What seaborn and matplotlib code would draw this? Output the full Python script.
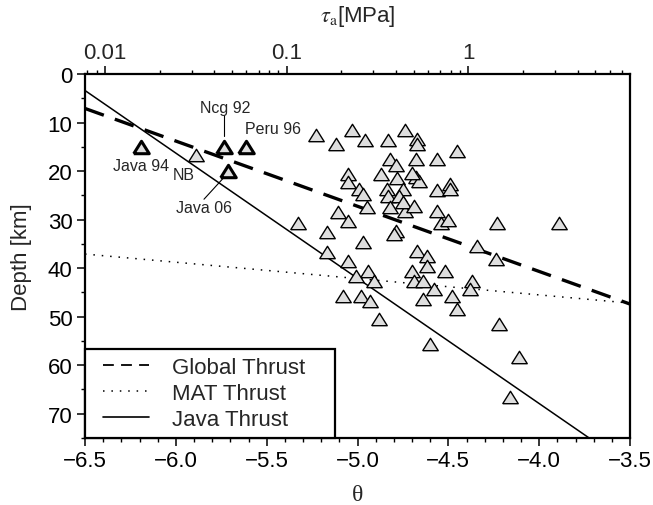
import numpy as np
import pandas as pd
import matplotlib
matplotlib.use("Agg")
import matplotlib.pyplot as plt
import seaborn as sns
from matplotlib.lines import Line2D
from matplotlib.legend_handler import HandlerLine2D
from matplotlib.ticker import FixedLocator, MultipleLocator, FuncFormatter, NullFormatter

# ---------------- data ----------------
theta_gray = [-5.23, -5.12, -5.03, -4.96, -4.83, -4.74, -4.67, -4.67, -4.56, -4.45,
              -4.82, -4.79, -4.68, -4.87, -5.05, -5.05, -4.99, -4.97,
              -4.78, -4.75, -4.84, -4.83, -4.77, -4.68, -4.66, -4.70, -4.56, -4.49, -4.49,
              -4.95, -4.82, -4.74, -4.75, -4.69, -4.56, -4.54, -4.50, -5.11, -5.05, -5.33,
              -4.23, -3.89,
              -5.17, -4.97, -4.79, -4.80, -5.17, -5.05, -4.94, -5.01, -4.91, -5.08, -4.98, -4.93, -4.88,
              -4.67, -4.62, -4.62, -4.70, -4.69, -4.64, -4.52, -4.58, -4.64, -4.48, -4.45,
              -4.37, -4.38, -4.34, -4.24, -4.60, -4.22, -4.16, -4.11,
              -5.89]
depth_gray = [12.6, 14.5, 11.6, 13.5, 13.5, 11.5, 13.4, 14.4, 17.5, 15.8,
              17.5, 18.7, 17.5, 20.6, 20.6, 22.2, 23.6, 24.7,
              21.5, 23.6, 23.7, 25.1, 25.1, 21.3, 22.0, 20.3, 24.0, 22.7, 23.7,
              27.5, 27.5, 28.2, 26.4, 27.1, 28.2, 30.6, 30.0, 28.5, 30.2, 30.6,
              30.6, 30.6,
              32.6, 34.7, 32.3, 33.0, 36.6, 38.5, 40.5, 41.6, 42.6, 45.7, 45.7, 46.7, 50.5,
              36.4, 37.5, 39.5, 40.5, 42.6, 42.6, 40.5, 44.3, 46.4, 45.7, 48.4,
              42.6, 44.3, 35.4, 38.1, 55.6, 51.5, 66.6, 58.4,
              16.6]

special_names = ["Java 94", "Ncg 92", "Peru 96", "Java 06"]
special_theta = [-6.19, -5.735, -5.615, -5.715]
special_depth = [15.0, 15.0, 15.0, 20.0]

line_theta = [-6.5, -3.5]
global_depth = [7.1, 47.4]
mat_depth = [37.1, 47.2]
java_depth = [3.4, 80.8]

x_ticks = [-6.5, -6.0, -5.5, -5.0, -4.5, -4.0, -3.5]
y_ticks = [0, 10, 20, 30, 40, 50, 60, 70]
tau_ticks = [0.01, 0.1, 1]
tau_labels = ["0.01", "0.1", "1"]
tau_offset = 4.39  # log10(tau_a) = theta + offset

# ---------------- style ----------------
sns.set_style("white")
plt.rcParams["font.family"] = ["Liberation Sans", "DejaVu Sans"]
plt.rcParams["mathtext.fontset"] = "stix"

fig = plt.figure(figsize=(6.53, 5.06), dpi=100)
ax = fig.add_axes([85/653, 67/506, 545/653, 364/506])

tri = [(-1, -0.8), (1, -0.8), (0, 0.8), (-1, -0.8)]
gray = "#dedede"

# lines
sns.lineplot(x=line_theta, y=java_depth, ax=ax, color="black", lw=1.1, sort=False, zorder=2)
sns.lineplot(x=line_theta, y=mat_depth, ax=ax, color="black", lw=1.1, sort=False,
             zorder=2).lines[-1].set_dashes((1, 4.5))
l = sns.lineplot(x=line_theta, y=global_depth, ax=ax, color="black", lw=2.4, sort=False, zorder=2).lines[-1]
l.set_dashes((6, 3.5))

# triangles
sns.scatterplot(x=theta_gray, y=depth_gray, ax=ax, marker=tri, s=125, color=gray,
                edgecolor="black", linewidth=1.0, zorder=3, legend=False)
sns.scatterplot(x=special_theta, y=special_depth, ax=ax, marker=tri, s=125, color=gray,
                edgecolor="black", linewidth=2.2, zorder=4, legend=False)

# annotations
fs_ann = 11.5
ax.text(-6.193, 18.9, "Java 94", ha="center", va="center", fontsize=fs_ann)
ax.text(-5.954, 20.8, "NB", ha="center", va="center", fontsize=fs_ann)
ax.text(-5.730, 6.9, "Ncg 92", ha="center", va="center", fontsize=fs_ann)
ax.text(-5.464, 11.3, "Peru 96", ha="center", va="center", fontsize=fs_ann)
ax.text(-5.844, 27.5, "Java 06", ha="center", va="center", fontsize=fs_ann)
ax.plot([-5.735, -5.735], [8.4, 12.8], color="black", lw=0.8, zorder=2)
ax.plot([-5.730, -5.845], [21.1, 25.8], color="black", lw=0.8, zorder=2)

# axes
ax.set_xlim(-6.5, -3.5)
ax.set_ylim(75, 0)
ax.xaxis.set_major_locator(FixedLocator(x_ticks))
ax.xaxis.set_minor_locator(MultipleLocator(0.1))
ax.xaxis.set_major_formatter(FuncFormatter(lambda v, p: f"{v:.1f}".replace("-", "\u2212")))
ax.yaxis.set_major_locator(FixedLocator(y_ticks))
ax.yaxis.set_minor_locator(MultipleLocator(5))
fs = 16
ax.tick_params(axis="both", which="major", direction="out", length=6, width=1.1,
               labelsize=fs, color="black", labelcolor="black", bottom=True, left=True, pad=3)
ax.tick_params(axis="both", which="minor", direction="out", length=3, width=1.0,
               bottom=True, left=True, color="black")
for s in ax.spines.values():
    s.set_color("black")
    s.set_linewidth(1.6)
ax.set_xlabel("θ", fontsize=17, family=["Liberation Serif", "DejaVu Serif"], labelpad=9)
ax.set_ylabel("Depth [km]", fontsize=fs, labelpad=11)

# top axis
ax2 = ax.twiny()
ax2.set_xscale("log")
ax2.set_xlim(10 ** (-6.5 + tau_offset), 10 ** (-3.5 + tau_offset))
ax2.xaxis.set_major_locator(FixedLocator(tau_ticks))
ax2.xaxis.set_major_formatter(FuncFormatter(lambda v, p: dict(zip(tau_ticks, tau_labels)).get(v, "")))
minor = [m * d for d in [0.001, 0.01, 0.1, 1] for m in range(2, 10)]
ax2.xaxis.set_minor_locator(FixedLocator(minor))
ax2.xaxis.set_minor_formatter(NullFormatter())
ax2.tick_params(axis="x", which="major", direction="out", length=6, width=1.1, labelsize=fs, pad=2, color="black")
ax2.tick_params(axis="x", which="minor", direction="out", length=3, width=1.0, color="black")
for s in ax2.spines.values():
    s.set_visible(False)
ax2.set_xlabel(r"$\tau_{\rm a}$[MPa]", fontsize=fs, labelpad=15)

# legend
handles = [Line2D([], [], color="black", lw=1.3, dashes=(6, 4)),
           Line2D([], [], color="black", lw=1.1, dashes=(1, 4.5)),
           Line2D([], [], color="black", lw=1.2)]
hm = {h: HandlerLine2D(xpad=0.45) for h in handles}
leg = ax.legend(handles, ["Global Thrust", "MAT Thrust", "Java Thrust"], loc="lower left",
                bbox_to_anchor=(0, 0, 250/545, 0.2), mode="expand",
                fontsize=fs, frameon=True, fancybox=False, borderaxespad=0, borderpad=0.38,
                handlelength=2.5, handletextpad=1.05, labelspacing=0.21, handler_map=hm)
leg.get_frame().set_edgecolor("black")
leg.get_frame().set_linewidth(1.6)
leg.get_frame().set_alpha(1)
leg.set_zorder(5)

fig.savefig("out.png", dpi=100)
